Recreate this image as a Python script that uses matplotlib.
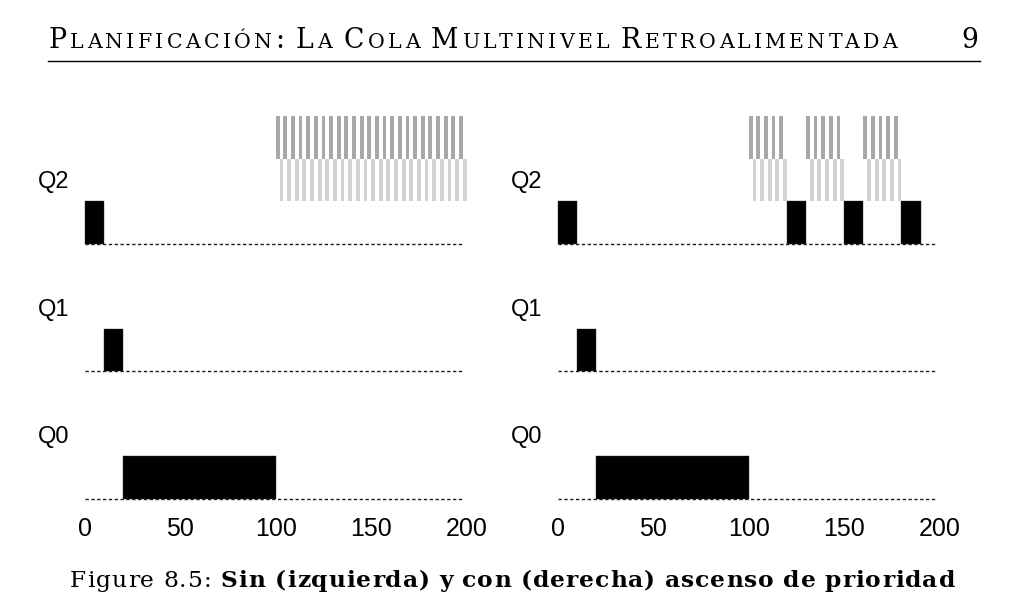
import matplotlib
matplotlib.use('Agg')
import matplotlib.pyplot as plt
from matplotlib.font_manager import FontProperties

plt.rcParams['lines.scale_dashes'] = False

# ---------------- data ----------------
queue_names = ['Q0', 'Q1', 'Q2']
x_ticks = [0, 50, 100, 150, 200]
x_max = 200

# Left panel: without priority boost
left_job_starts = [0, 10, 20]
left_job_durations = [10, 10, 80]
left_job_queues = ['Q2', 'Q1', 'Q0']
left_dark_starts = [100, 104, 108, 112, 116, 120, 124, 128, 132, 136, 140, 144, 148,
                    152, 156, 160, 164, 168, 172, 176, 180, 184, 188, 192, 196]
left_light_starts = [102, 106, 110, 114, 118, 122, 126, 130, 134, 138, 142, 146, 150,
                     154, 158, 162, 166, 170, 174, 178, 182, 186, 190, 194, 198]

# Right panel: with priority boost
right_job_starts = [0, 10, 20, 120, 150, 180]
right_job_durations = [10, 10, 80, 10, 10, 10]
right_job_queues = ['Q2', 'Q1', 'Q0', 'Q2', 'Q2', 'Q2']
right_dark_starts = [100, 104, 108, 112, 116, 130, 134, 138, 142, 146, 160, 164, 168, 172, 176]
right_light_starts = [102, 106, 110, 114, 118, 132, 136, 140, 144, 148, 162, 166, 170, 174, 178]
stripe_duration = 2

header_title = 'Planificación: La Cola Multinivel Retroalimentada'
page_number = '9'
caption_prefix = 'Figure 8.5:'
caption_text = 'Sin (izquierda) y con (derecha) ascenso de prioridad'

# ---------------- layout ----------------
W_PX, H_PX, DPI = 1029, 611, 100
fig = plt.figure(figsize=(W_PX / DPI, H_PX / DPI), dpi=DPI)

row_base = {'Q0': 0, 'Q1': 3, 'Q2': 6}
SANS = 'Liberation Sans'
SERIF = 'DejaVu Serif'

def px_rect(x0, x1, y_top, y_bot):
    return [x0 / W_PX, 1 - y_bot / H_PX, (x1 - x0) / W_PX, (y_bot - y_top) / H_PX]

def draw_panel(ax, starts, durs, queues, dark_starts, light_starts):
    for q in queue_names:
        b = row_base[q]
        ax.plot([0, x_max - 2], [b, b], color='#1a1a1a', lw=1.0,
                dashes=(2.4, 1.8), clip_on=False, zorder=1)
        ax.text(-24.6, b + 1.3, q, fontsize=17, family=SANS, ha='left',
                va='baseline', clip_on=False)
    ax.bar(starts, [1] * len(starts), width=durs, bottom=[row_base[q] for q in queues],
           align='edge', color='black', edgecolor='#333333', lw=0.3, zorder=2, clip_on=False)
    top = row_base['Q2']
    ax.bar(light_starts, [1] * len(light_starts), width=stripe_duration, bottom=top + 1,
           align='edge', color='#d3d3d3', lw=0, zorder=2, clip_on=False)
    ax.bar(dark_starts, [1] * len(dark_starts), width=stripe_duration, bottom=top + 2,
           align='edge', color='#a8a8a8', lw=0, zorder=2, clip_on=False)
    ax.set_xlim(0, x_max)
    ax.set_ylim(0, 9)
    ax.set_xticks(x_ticks)
    ax.set_xticklabels([str(t) for t in x_ticks], fontsize=18, family=SANS)
    ax.set_yticks([])
    ax.tick_params(axis='x', length=0, pad=13.3)
    for s in ax.spines.values():
        s.set_visible(False)

ax_l = fig.add_axes(px_rect(84.8, 466.6, 116.0, 498.5))
ax_r = fig.add_axes(px_rect(557.8, 939.6, 116.0, 498.5))
draw_panel(ax_l, left_job_starts, left_job_durations, left_job_queues,
           left_dark_starts, left_light_starts)
draw_panel(ax_r, right_job_starts, right_job_durations, right_job_queues,
           right_dark_starts, right_light_starts)

# ---------------- text with tracking ----------------
renderer = fig.canvas.get_renderer()

def measure(s, fp):
    w, h, d = renderer.get_text_width_height_descent(s, fp, ismath=False)
    return w

def place_words(words, x_left, x_right, y_base, space_em=0.32):
    """words: list of list of (segment_text, size, weight)."""
    glyphs = []  # (char, fp, natural_x, is_word_start)
    x = 0.0
    for wi, word in enumerate(words):
        if wi > 0:
            em = word[0][1] * DPI / 72.0
            x += space_em * em
        for si, (seg, size, weight) in enumerate(word):
            fp = FontProperties(family=SERIF, size=size, weight=weight)
            em = size * DPI / 72.0
            if si > 0:
                x += (0.0 if seg[0] in ':;,.' else 0.04) * em
            for i, ch in enumerate(seg):
                pos = measure(seg[:i + 1], fp) - measure(ch, fp)
                glyphs.append((ch, fp, x + pos))
            x += measure(seg, fp)
    natural = x
    n = len(glyphs) - 1
    track = (x_right - x_left - natural) / n if n > 0 else 0
    for i, (ch, fp, nx) in enumerate(glyphs):
        fig.text((x_left + nx + i * track) / W_PX, 1 - y_base / H_PX, ch,
                 fontproperties=fp, ha='left', va='baseline')

# header in small caps
BIG, SMALL = 19.3, 14.8
header_words = []
for word in header_title.split(' '):
    segs = []
    for ch in word:
        if ch.isalpha() and ch.islower():
            size = SMALL
            c = ch.upper()
        else:
            size = BIG
            c = ch
        if segs and segs[-1][1] == size:
            segs[-1] = (segs[-1][0] + c, size, 'normal')
        else:
            segs.append((c, size, 'normal'))
    header_words.append(segs)
place_words(header_words, 48, 897, 47.7, space_em=0.3)
fig.text(978 / W_PX, 1 - 47.7 / H_PX, page_number, family=SERIF, fontsize=BIG,
         ha='right', va='baseline')
fig.add_artist(plt.Line2D([48 / W_PX, 980 / W_PX], [1 - 60.7 / H_PX] * 2,
                          color='black', lw=1.0, transform=fig.transFigure))

# caption
CAP = 16.8
cap_words = [[(w, CAP, 'normal')] for w in caption_prefix.split(' ')]
cap_words += [[(w, CAP, 'bold')] for w in caption_text.split(' ')]
place_words(cap_words, 70, 955, 587, space_em=0.36)

fig.savefig('out.png', dpi=DPI)
